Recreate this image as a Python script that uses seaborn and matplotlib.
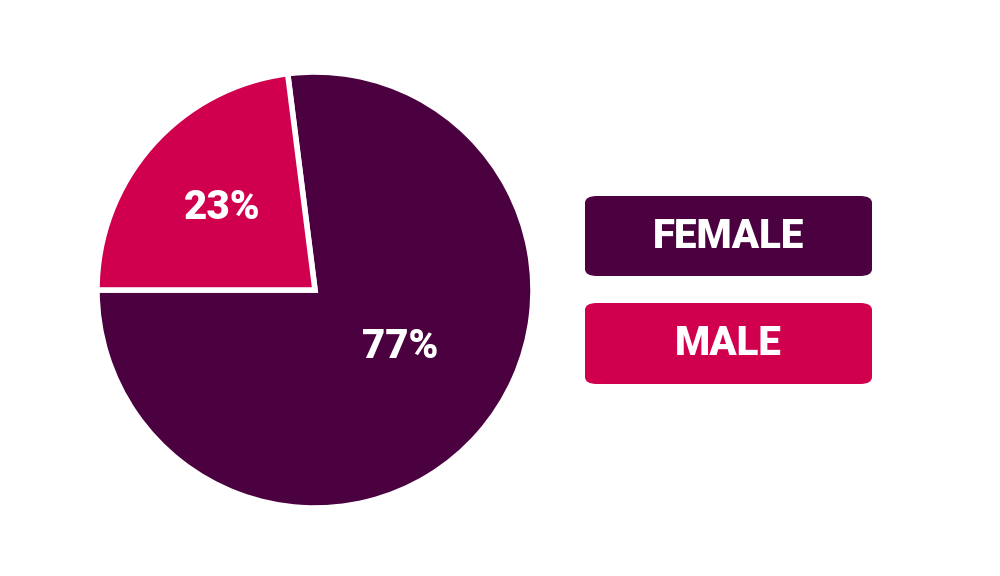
import matplotlib
matplotlib.use("Agg")
import matplotlib.pyplot as plt
import seaborn as sns
import numpy as np
from matplotlib.patches import FancyBboxPatch

categories = ["FEMALE", "MALE"]
values = [77, 23]
colors = ["#4b0040", "#d0004e"]

sns.set_theme(style="white")
plt.rcParams['font.family'] = ['Roboto', 'DejaVu Sans']

fig = plt.figure(figsize=(10, 5.76), dpi=100)
W, H = 1000, 576
cx, cy, r = 315, 290, 218
ax = fig.add_axes([(cx - r) / W, (H - cy - r) / H, 2 * r / W, 2 * r / H])
wedges, texts, autotexts = ax.pie(
    values, colors=colors, startangle=180, counterclock=True,
    autopct=lambda p: f"{p:.0f}%", pctdistance=0.57,
    wedgeprops=dict(edgecolor="white", linewidth=4),
    textprops=dict(color="white", fontsize=29, fontweight="black"))
autotexts[0].set_position((0.39, -0.26))
ax.set_xlim(-1.0, 1.0)
ax.set_ylim(-1.0, 1.0)
ax.set_aspect("equal")
ax.axis("off")

# legend boxes
boxes = [(585, 196, 287, 80), (585, 303, 287, 81)]
for (x, y, w, h), lab, col in zip(boxes, categories, colors):
    p = FancyBboxPatch((x / W, (H - y - h) / H), w / W, h / H,
                       boxstyle="round,pad=0,rounding_size=0.012",
                       transform=fig.transFigure, facecolor=col, edgecolor="none")
    fig.add_artist(p)
    fig.text((x + w / 2) / W, (H - y - h / 2) / H, lab, color="white",
             fontsize=29, fontweight="black", ha="center", va="center")

fig.savefig("out.png", dpi=100, facecolor="white")
